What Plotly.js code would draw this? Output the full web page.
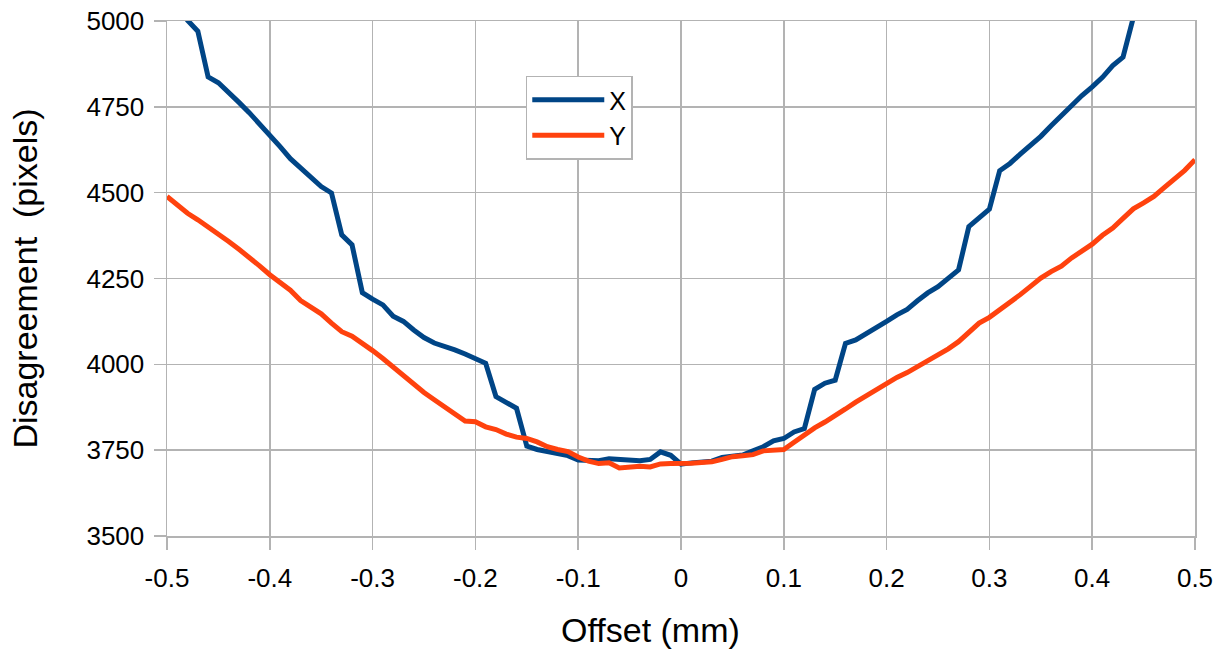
<!DOCTYPE html>
<html>
<head>
<meta charset="utf-8">
<script src="https://cdn.plot.ly/plotly-3.0.1.min.js"></script>
<style>html,body{margin:0;padding:0;background:#fff;}#chart{width:1222px;height:649px;}</style>
</head>
<body>
<div id="chart"></div>
<script>
const offsets = [-0.50,-0.49,-0.48,-0.47,-0.46,-0.45,-0.44,-0.43,-0.42,-0.41,-0.40,-0.39,-0.38,-0.37,-0.36,-0.35,-0.34,-0.33,-0.32,-0.31,-0.30,-0.29,-0.28,-0.27,-0.26,-0.25,-0.24,-0.23,-0.22,-0.21,-0.20,-0.19,-0.18,-0.17,-0.16,-0.15,-0.14,-0.13,-0.12,-0.11,-0.10,-0.09,-0.08,-0.07,-0.06,-0.05,-0.04,-0.03,-0.02,-0.01,0.00,0.01,0.02,0.03,0.04,0.05,0.06,0.07,0.08,0.09,0.10,0.11,0.12,0.13,0.14,0.15,0.16,0.17,0.18,0.19,0.20,0.21,0.22,0.23,0.24,0.25,0.26,0.27,0.28,0.29,0.30,0.31,0.32,0.33,0.34,0.35,0.36,0.37,0.38,0.39,0.40,0.41,0.42,0.43,0.44,0.45,0.46,0.47,0.48,0.49,0.50];

const seriesX = [5080,5040,5002,4970,4837,4820,4789,4763,4733,4701,4669,4634,4599,4571,4543,4518,4499,4377,4348,4209,4190,4173,4140,4125,4100,4078,4062,4053,4042,4030,4015,4003,3906,3890,3872,3762,3752,3746,3740,3734,3721,3719,3719,3725,3722,3720,3719,3723,3745,3735,3709,3713,3716,3718,3729,3732,3736,3748,3760,3777,3784,3803,3813,3927,3945,3954,4061,4071,4088,4105,4125,4144,4160,4185,4208,4226,4250,4275,4401,4425,4452,4564,4585,4612,4636,4664,4695,4725,4755,4783,4808,4836,4870,4895,5010,5120,5200,5280,5360,5440,5520];

const seriesY = [4489,4463,4440,4421,4401,4381,4358,4335,4312,4287,4261,4239,4216,4186,4165,4147,4120,4095,4082,4062,4040,4017,3992,3970,3945,3918,3897,3875,3854,3835,3833,3818,3810,3797,3788,3784,3774,3760,3752,3746,3730,3718,3711,3713,3698,3702,3703,3701,3710,3711,3710,3712,3714,3716,3723,3731,3734,3737,3748,3751,3752,3773,3795,3815,3832,3849,3870,3890,3908,3928,3948,3962,3976,3993,4012,4025,4045,4066,4095,4120,4137,4158,4180,4203,4227,4251,4270,4286,4310,4330,4350,4376,4397,4425,4453,4470,4489,4515,4540,4565,4596];

const xTicks = [-0.5,-0.4,-0.3,-0.2,-0.1,0,0.1,0.2,0.3,0.4,0.5];
const xTickText = ["-0.5","-0.4","-0.3","-0.2","-0.1","0","0.1","0.2","0.3","0.4","0.5"];
const yTicks = [3500,3750,4000,4250,4500,4750,5000];
const xTitle = "Offset (mm)";
const yTitle = "Disagreement\u00a0\u00a0(pixels)";

const FONT = "Liberation Sans, Arial, sans-serif";
const GRID = "#b3b3b3";

const traces = [
  {x: offsets, y: seriesX, name: "X", type: "scatter", mode: "lines",
   line: {color: "#004586", width: 5}},
  {x: offsets, y: seriesY, name: "Y", type: "scatter", mode: "lines",
   line: {color: "#ff420e", width: 5}}
];

const layout = {
  width: 1222, height: 649,
  margin: {l: 167, r: 27, t: 21, b: 113},
  paper_bgcolor: "#fff", plot_bgcolor: "#fff",
  font: {family: FONT, color: "#000"},
  showlegend: true,
  legend: {x: 0.349, y: 0.894, xanchor: "left", yanchor: "top",
    bgcolor: "#fff", bordercolor: GRID, borderwidth: 1.5, itemwidth: 72,
    font: {size: 25, family: FONT, color: "#000"}, tracegroupgap: 0},
  xaxis: {range: [-0.5, 0.5], tickvals: xTicks, ticktext: xTickText,
    showgrid: true, gridcolor: GRID, gridwidth: 1.5, zeroline: false,
    showline: true, linecolor: GRID, linewidth: 1.5, mirror: true,
    ticks: "outside", ticklen: 12, tickcolor: GRID, tickwidth: 1.5,
    ticklabelstandoff: 6,
    tickfont: {size: 26, family: FONT, color: "#000"}},
  yaxis: {range: [3500, 5000], tickvals: yTicks,
    showgrid: true, gridcolor: GRID, gridwidth: 1.5, zeroline: false,
    showline: true, linecolor: GRID, linewidth: 1.5, mirror: true,
    ticks: "outside", ticklen: 12, tickcolor: GRID, tickwidth: 1.5,
    ticklabelstandoff: 4,
    tickfont: {size: 26, family: FONT, color: "#000"},
    title: {text: yTitle, font: {size: 34, family: FONT, color: "#000"}, standoff: 38}},
  annotations: [
    {text: xTitle, xref: "paper", yref: "paper", x: 0.47, y: -0.183,
     xanchor: "center", yanchor: "middle", showarrow: false,
     font: {size: 34, family: FONT, color: "#000"}}
  ]
};

Plotly.newPlot("chart", traces, layout, {displayModeBar: false, staticPlot: true});
</script>
</body>
</html>
